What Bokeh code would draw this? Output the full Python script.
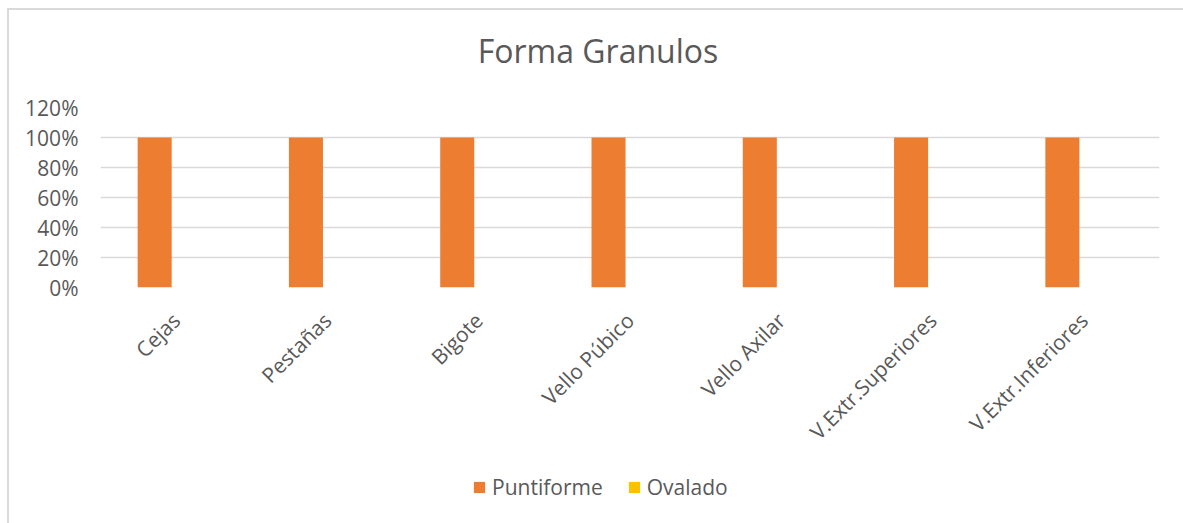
import math
from bokeh.plotting import figure
from bokeh.layouts import column
from bokeh.models import (ColumnDataSource, FactorRange, Range1d, FixedTicker,
                          NumeralTickFormatter, Legend, LegendItem, Label)
from bokeh.transform import dodge
from bokeh.embed import file_html
from bokeh.resources import INLINE

categories = ["Cejas", "Pestañas", "Bigote", "Vello Púbico", "Vello Axilar",
              "V.Extr.Superiores", "V.Extr.Inferiores"]
puntiforme = [1.0, 1.0, 1.0, 1.0, 1.0, 1.0, 1.0]
ovalado = [0.0, 0.0, 0.0, 0.0, 0.0, 0.0, 0.0]
y_ticks = [0.0, 0.2, 0.4, 0.6, 0.8, 1.0, 1.2]
series_names = ["Puntiforme", "Ovalado"]
series_colors = ["#ED7D31", "#FFC000"]
title_text = "Forma Granulos"

FONT = "Open Sans"
TXT = "#595959"
GRID = "#d9d9d9"

src = ColumnDataSource(dict(cat=categories, punt=puntiforme, oval=ovalado))

# title strip
tf = figure(width=1174, height=80, x_range=Range1d(0, 1), y_range=Range1d(0, 1),
            x_axis_type=None, y_axis_type=None, output_backend="svg",
            toolbar_location=None, min_border=0)
tf.outline_line_color = None
tf.xgrid.grid_line_color = None
tf.ygrid.grid_line_color = None
tf.add_layout(Label(x=497.5, y=40, x_units="screen", y_units="screen",
                    text=title_text, text_font=FONT, text_font_size="32px",
                    text_color=TXT, text_align="center",
                    text_baseline="alphabetic"))

# main chart
p = figure(width=1174, height=368, x_range=FactorRange(*categories),
           y_range=Range1d(0, 1.2), output_backend="svg", toolbar_location=None,
           min_border_left=91, min_border_right=24, min_border_top=17,
           min_border_bottom=170)
p.outline_line_color = None
p.background_fill_color = "white"
p.border_fill_color = "white"

p.vbar(x=dodge("cat", -0.142, range=p.x_range), top="punt", width=0.225,
       source=src, fill_color=series_colors[0], line_color=None)
p.vbar(x=dodge("cat", 0.142, range=p.x_range), top="oval", width=0.225,
       source=src, fill_color=series_colors[1], line_color=None)

p.xgrid.grid_line_color = None
p.ygrid.grid_line_color = GRID
p.ygrid.grid_line_width = 1.5
p.yaxis.ticker = FixedTicker(ticks=y_ticks)
p.yaxis.formatter = NumeralTickFormatter(format="0%")
for ax in (p.xaxis[0], p.yaxis[0]):
    ax.axis_line_color = None
    ax.major_tick_line_color = None
    ax.minor_tick_line_color = None
    ax.major_tick_out = 0
    ax.major_tick_in = 0
    ax.major_label_text_font = FONT
    ax.major_label_text_color = TXT
p.yaxis.major_label_text_font_size = "21px"
p.xaxis.major_label_text_font_size = "21px"
p.yaxis.major_label_standoff = 22
p.xaxis.major_label_orientation = math.pi / 4
p.xaxis.major_label_standoff = 29

# legend strip below the chart (zero-height proxy bars carry the legend glyphs)
lg = figure(width=1174, height=65, x_range=FactorRange(*categories),
            y_range=Range1d(0, 1), x_axis_type=None, y_axis_type=None,
            output_backend="svg", toolbar_location=None, min_border=0)
lg.outline_line_color = None
lg.xgrid.grid_line_color = None
lg.ygrid.grid_line_color = None
rs = [lg.vbar(x="cat", top="oval", bottom="oval", width=0.1, source=src,
              fill_color=c, line_color=None)
      for c in series_colors]
legend = Legend(items=[LegendItem(label=n, renderers=[r])
                       for n, r in zip(series_names, rs)],
                location=(372, 22), orientation="horizontal",
                glyph_width=14, glyph_height=14, label_standoff=6, spacing=24,
                padding=0, margin=0, border_line_color=None,
                background_fill_alpha=0,
                label_text_font=FONT, label_text_font_size="21px",
                label_text_color=TXT)
lg.add_layout(legend, "center")

layout = column(tf, p, lg, spacing=0,
                styles={"margin-left": "7px", "margin-top": "8px",
                        "border-left": "2px solid #d9d9d9",
                        "border-top": "2px solid #d9d9d9"})

open("out.html", "w").write(file_html(layout, INLINE))
